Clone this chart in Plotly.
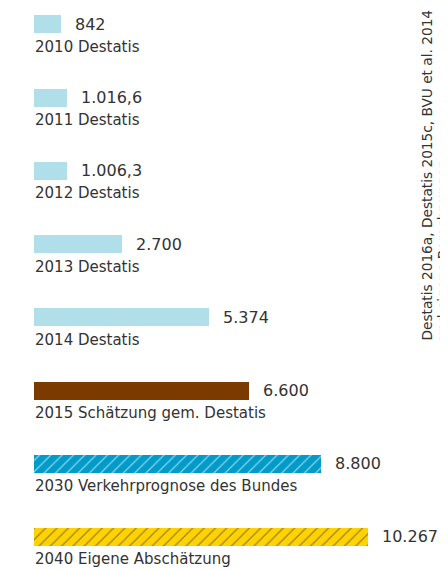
import plotly.graph_objects as go

categories = ["2010 Destatis", "2011 Destatis", "2012 Destatis", "2013 Destatis",
              "2014 Destatis", "2015 Schätzung gem. Destatis",
              "2030 Verkehrprognose des Bundes", "2040 Eigene Abschätzung"]
values = [842, 1016.6, 1006.3, 2700, 5374, 6600, 8800, 10267]
value_labels = ["842", "1.016,6", "1.006,3", "2.700", "5.374", "6.600", "8.800", "10.267"]
colors = ["#b0dfea", "#b0dfea", "#b0dfea", "#b0dfea", "#b0dfea", "#7a3a00", "#009bc9", "#ffd200"]
patterns = ["", "", "", "", "", "", "/", "/"]
source_lines = ["Destatis 2016a, Destatis 2015c, BVU et al. 2014", "und eigene Berechnungen"]

FONT = "'DejaVu Sans', sans-serif"
TXT = "#333333"

# page has an 8px body margin; figure is sized to fill the rest of the window
W, H = 440, 562

idx = list(range(len(categories)))

fig = go.Figure()
fig.add_trace(go.Bar(
    x=values, y=idx, orientation="h", width=0.246,
    marker=dict(color=colors, line=dict(width=0),
                pattern=dict(shape=patterns, fgcolor="white", fgopacity=0.55,
                             size=8, solidity=0.16)),
    hoverinfo="skip", showlegend=False,
))

for i, (c, v, lab) in enumerate(zip(categories, values, value_labels)):
    fig.add_annotation(x=v, y=i, text=lab, showarrow=False, xanchor="left",
                       yanchor="middle", xshift=12,
                       font=dict(family=FONT, size=16, color=TXT))
    fig.add_annotation(x=0, y=i, text=c, showarrow=False, xanchor="left",
                       yanchor="middle", yshift=-22.5, xshift=-1,
                       font=dict(family=FONT, size=15, color=TXT))

for k, line in enumerate(source_lines):
    fig.add_annotation(xref="paper", yref="paper", x=(408 + 16 * k - 26) / 414,
                       y=1 - 335 / H, text=line, showarrow=False,
                       textangle=-90, xanchor="left", yanchor="bottom",
                       font=dict(family=FONT, size=13.7, color=TXT))

fig.update_layout(
    width=W, height=H,
    margin=dict(l=26, r=0, t=0, b=0),
    paper_bgcolor="white", plot_bgcolor="white",
    xaxis=dict(range=[0, 414 * 30.7], visible=False, fixedrange=True),
    yaxis=dict(range=[7.452, -0.225], visible=False, fixedrange=True),
    bargap=0,
)

fig.write_html("out.html")
